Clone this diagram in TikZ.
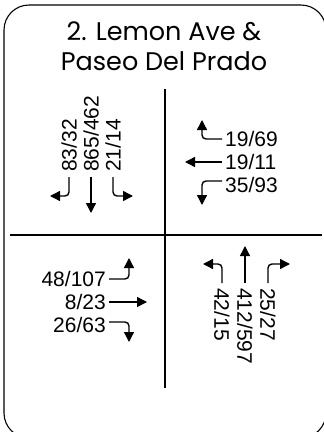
\documentclass[tikz,border=0pt]{standalone}
\usepackage{fontspec}
\setmainfont{Liberation Sans}
\newfontfamily\titlefont{Poppins}
\usetikzlibrary{arrows.meta,positioning,calc}

\begin{document}
\begin{tikzpicture}[x=1pt,y=-1pt,>={Triangle[length=10pt,width=10pt]},
  vol/.style={font=\fontsize{21}{22}\selectfont,inner sep=0pt},
  mv/.style={->,line width=1.4pt,rounded corners=4pt},
  grid/.style={line width=1.1pt}]
\useasboundingbox (0,0) rectangle (324,432);
\draw[line width=1.1pt,rounded corners=25pt] (4,5) rectangle (326,438);

% title
\node[font=\titlefont\fontsize{25.5}{30}\selectfont,align=center] (ttl) at (164,46)
  {2. Lemon Ave \&\\Paseo Del Prado};

% cross
\coordinate (vt) at (165,89);
\coordinate (vb) at (165,388);
\coordinate (hl) at (10,235);
\coordinate (hr) at (322,235);
\draw[grid] (vt) -- (vb);
\draw[grid] (hl) -- (hr);

% southbound (top left)
\node[vol,rotate=90,anchor=west] (sl) at (69,172) {83/32};
\node[vol,rotate=90,anchor=west] (st) at (91,172) {865/462};
\node[vol,rotate=90,anchor=west] (sr) at (113,172) {21/14};
\coordinate (slt) at (50,196);
\coordinate (stt) at (91,213);
\coordinate (srt) at (133,196);
\draw[mv] ($(sl.west)+(0,5)$) |- (slt);
\draw[mv] ($(st.west)+(0,5)$) -- (stt);
\draw[mv] ($(sr.west)+(0,5)$) |- (srt);

% westbound (top right)
\node[vol,anchor=west] (wr) at (225,139) {19/69};
\node[vol,anchor=west] (wt) at (225,162) {19/11};
\node[vol,anchor=west] (wl) at (225,185) {35/93};
\coordinate (wrt) at (202,120);
\coordinate (wtt) at (185,162);
\coordinate (wlt) at (202,205);
\draw[mv] ($(wr.west)+(-3,0)$) -| (wrt);
\draw[mv] ($(wt.west)+(-3,0)$) -- (wtt);
\draw[mv] ($(wl.west)+(-3,-4)$) -| (wlt);

% eastbound (bottom left)
\node[vol,anchor=east] (el) at (106,279) {48/107};
\node[vol,anchor=east] (et) at (106,302) {8/23};
\node[vol,anchor=east] (er) at (106,325) {26/63};
\coordinate (elt) at (129,258);
\coordinate (ett) at (147,302);
\coordinate (ert) at (129,342);
\draw[mv] ($(el.east)+(3,0)$) -| (elt);
\draw[mv] ($(et.east)+(3,0)$) -- (ett);
\draw[mv] ($(er.east)+(3,-3)$) -| (ert);

% northbound (bottom right)
\node[vol,rotate=-90,anchor=west] (nl) at (222,288) {42/15};
\node[vol,rotate=-90,anchor=west] (nt) at (245,288) {412/597};
\node[vol,rotate=-90,anchor=west] (nr) at (268,288) {25/27};
\coordinate (nlt) at (203,264);
\coordinate (ntt) at (245,246);
\coordinate (nrt) at (290,264);
\draw[mv] ($(nl.west)+(0,-5)$) |- (nlt);
\draw[mv] ($(nt.west)+(0,-5)$) -- (ntt);
\draw[mv] ($(nr.west)+(0,-5)$) |- (nrt);
\end{tikzpicture}
\end{document}
